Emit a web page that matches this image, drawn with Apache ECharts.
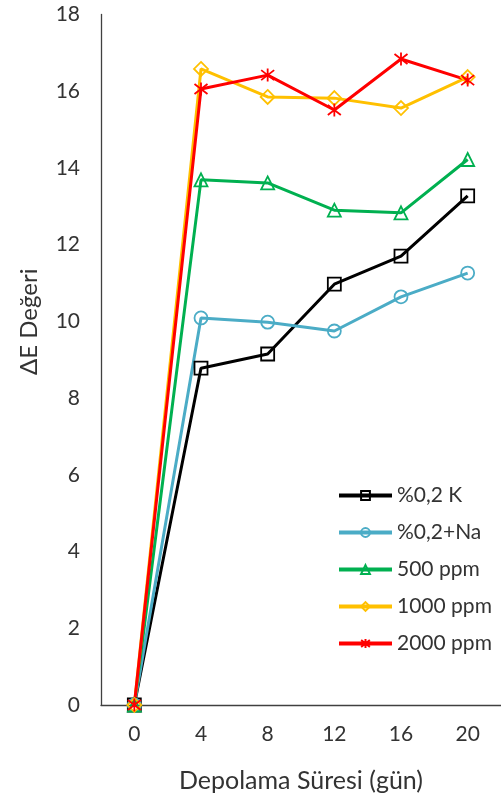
<!DOCTYPE html>
<html>
<head>
<meta charset="utf-8">
<script src="https://cdn.jsdelivr.net/npm/echarts@6/dist/echarts.min.js"></script>
<style>
  html, body { margin: 0; padding: 0; background: #fff; }
  #chart { width: 501px; height: 801px; }
</style>
</head>
<body>
<div id="chart"></div>
<script>
// Storage time (days) and colour difference values per treatment
const days = ['0', '4', '8', '12', '16', '20'];
const k02 = [0, 8.78, 9.15, 10.97, 11.70, 13.27];
const na02 = [0, 10.09, 9.98, 9.75, 10.64, 11.26];
const ppm500 = [0, 13.69, 13.61, 12.90, 12.83, 14.22];
const ppm1000 = [0, 16.58, 15.85, 15.82, 15.56, 16.37];
const ppm2000 = [0, 16.06, 16.42, 15.51, 16.84, 16.29];
const yTicks = [0, 2, 4, 6, 8, 10, 12, 14, 16, 18];

const FONT = 'Lato';
const asterisk = 'path://M-1,-1L1,1M-1,1L1,-1M0,-1.3L0,1.3';

function mk(name, data, color, symbol, size) {
  return {
    name: name,
    type: 'line',
    data: data,
    symbol: symbol,
    symbolSize: size,
    showAllSymbol: true,
    lineStyle: { color: color, width: 3 },
    itemStyle: { color: 'rgba(0,0,0,0)', borderColor: color, borderWidth: 1.8 },
    emphasis: { disabled: true }
  };
}

const chart = echarts.init(document.getElementById('chart'));
chart.setOption({
  animation: false,
  textStyle: { fontFamily: FONT },
  grid: { left: 101, top: 14.5, width: 409, height: 690.5, containLabel: false },
  xAxis: {
    type: 'category',
    data: days,
    boundaryGap: true,
    axisLine: { lineStyle: { color: '#404040', width: 1.3 } },
    axisTick: { show: false },
    axisLabel: { color: '#333333', fontSize: 21, margin: 19, fontFamily: FONT },
    name: 'Depolama Süresi (gün)',
    nameLocation: 'middle',
    nameGap: 63,
    nameTextStyle: { color: '#333333', fontSize: 25, fontFamily: FONT }
  },
  yAxis: {
    type: 'value',
    min: 0,
    max: 18,
    interval: 2,
    axisLine: { show: true, lineStyle: { color: '#404040', width: 1.3 } },
    axisTick: { show: false },
    splitLine: { show: false },
    axisLabel: {
      color: '#333333', fontSize: 21, margin: 21, fontFamily: FONT,
      formatter: function (v) { return yTicks.indexOf(v) >= 0 ? String(v) : ''; }
    },
    name: 'ΔE Değeri',
    nameLocation: 'middle',
    nameRotate: 90,
    nameGap: 60,
    nameTextStyle: { color: '#333333', fontSize: 24, fontFamily: FONT, padding: [0, 0, 0, 76] }
  },
  legend: {
    orient: 'vertical',
    left: 332,
    top: 480,
    itemWidth: 53,
    itemHeight: 11,
    itemGap: 16,
    lineStyle: { width: 4 },
    textStyle: { color: '#333333', fontSize: 21, fontFamily: FONT },
    data: ['%0,2 K', '%0,2+Na', '500 ppm', '1000 ppm', '2000 ppm']
  },
  series: [
    mk('%0,2 K', k02, '#000000', 'rect', 13),
    mk('%0,2+Na', na02, '#4bacc6', 'circle', 13),
    mk('500 ppm', ppm500, '#00b050', 'triangle', 13),
    mk('1000 ppm', ppm1000, '#ffc000', 'diamond', 14),
    mk('2000 ppm', ppm2000, '#ff0000', asterisk, 13)
  ]
});
</script>
</body>
</html>
